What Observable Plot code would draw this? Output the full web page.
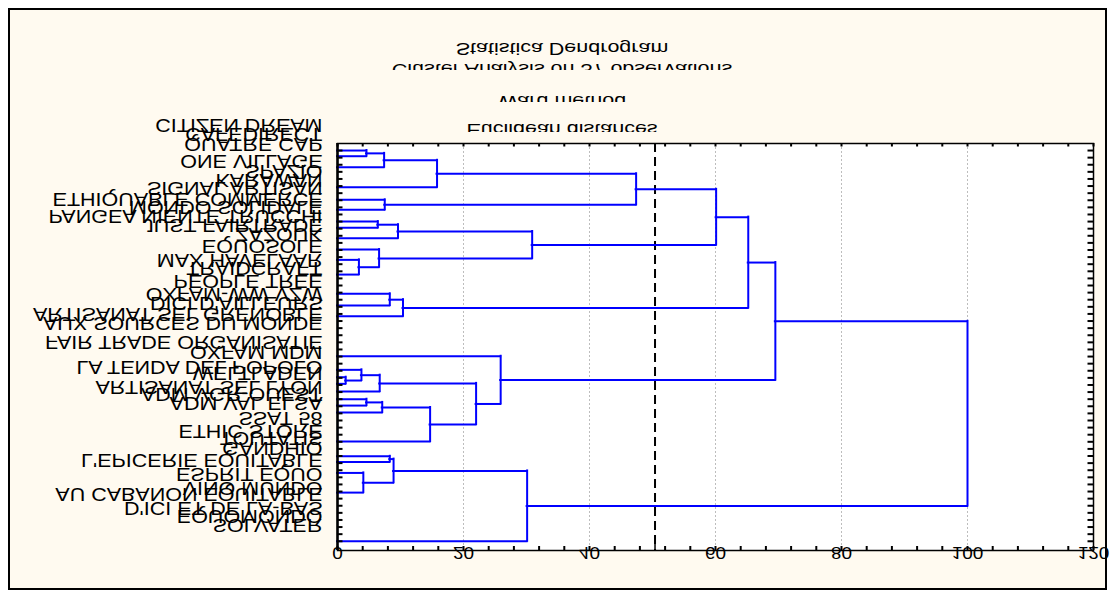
<!DOCTYPE html>
<html><head><meta charset="utf-8">
<script src="https://cdn.jsdelivr.net/npm/d3@7"></script>
<script src="https://cdn.jsdelivr.net/npm/@observablehq/plot@0.6"></script>
<style>
html,body{margin:0;padding:0;background:#fff;}
#wrap{position:relative;width:1115px;height:596px;overflow:hidden;font-family:"Liberation Sans",Arial,sans-serif;}
#border{position:absolute;left:8px;top:8px;width:1099px;height:582px;box-sizing:border-box;border:2px solid #000;background:#fffaf0;}
#chart{position:absolute;left:0;top:0;}
.tl{position:absolute;left:0;width:1124px;overflow:hidden;}
.tl div{position:absolute;left:0;width:100%;text-align:center;font-size:21.5px;line-height:21.5px;height:21.5px;white-space:nowrap;transform:scaleY(-0.78);transform-origin:50% 50%;color:#000;}
</style></head><body>
<div id="wrap"><div id="border"></div><div id="chart"></div><div id="titles"></div></div>
<script>
// ---- data ----
const titleLines = ["Statistica Dendrogram", "Cluster Analysis on 37 observations", "Ward method", "Euclidean distances"];

const obsLabels = ["CITIZEN DREAM","CAFEDIRECT","QUATRE CAP","ONE VILLAGE","SPAZIO","KARAWAN","SIGNAL ARTISAN",
  "ETHIQUABLE COMMERCE","MONDO SOLIDALE","PANGEA NIENTE TRUCCHI","JUST FAIRTRADE","ZAZOUK","EQUOSOLE",
  "MAX HAVELAAR","TRAIDCRAFT","PEOPLE TREE","OXFAM-WW VZW","DICI D'AILLEURS","ARTISANAT SEL GRENOBLE",
  "AUX SOURCES DU MONDE","FAIR TRADE ORGANISATIE","OXFAM MDM","LA TENDA DEL POPOLO","WELTLADEN",
  "ARTISANAT SEL LYON","ADM VGR-OUEST","ADM VAL ELSA","SSAT 58","ETHIC STORE","TOUTATIS","GANDHIO",
  "L'EPICERIE EQUITABLE","ESPRIT EQUO","VINO MUNDO","AU CABANON EQUITABLE","D'ICI ET DE LA-BAS","EQUOMONDO","SOLVATER"];
const labelRows = [-3.52,-2.28,-0.89,1.52,2.93,4.22,5.28,6.86,7.98,9.2,10.56,11.8,13.5,15.37,16.5,18.4,20.2,21.5,23.1,
  24.3,27.0,28.4,30.5,31.3,33.3,34.3,35.6,37.7,39.5,40.5,41.9,43.6,45.6,47.5,48.4,50.4,51.4,52.7];

// leaf rows of the dendrogram (in leaf-tick units)
const leafRows = [0,0.80,2.35,5.17,6.94,8.35,10.0,10.88,12.35,13.94,15.39,17.46,20.17,21.82,23.33,28.96,
  30.87,31.91,32.84,33.93,35.01,35.90,36.89,40.97,43.04,43.83,45.38,48.15,55.0];
// merges: left child, right child, linkage distance
const mergeLeft  = ["L0","M0","M1","L4","M2","L6","M5","L10","L9","M6","M4","L12","M11","M10","L17","L16","M15","L20","M17","M18","M16","L15","M13","L24","L26","M23","M25","M22"];
const mergeRight = ["L1","L2","L3","L5","M3","L7","L8","L11","M7","M8","M9","L13","L14","M12","L18","M14","L19","L21","L22","L23","M19","M20","M21","L25","L27","M24","L28","M26"];
const mergeHeight = [4.6,7.4,15.8,7.5,47.4,6.4,9.6,3.4,6.6,30.9,60.1,8.3,10.4,65.2,1.3,3.8,6.7,4.6,7.1,14.7,22.0,25.9,69.5,8.3,4.1,8.9,30.1,100.0];

const cutHeight = 50.4;
const xTickLabels = [0,20,40,60,80,100,120];
const gridX = [20,40,60,80,100];
const xMinor = d3.range(0, 121, 4);
const rowTicks = d3.range(0, 56);

// ---- build tree segments ----
const nodeY = {}, nodeH = {};
leafRows.forEach((r, i) => { nodeY["L" + i] = r; nodeH["L" + i] = 0; });
const hSegs = [], vSegs = [];
mergeLeft.forEach((a, i) => {
  const b = mergeRight[i], h = mergeHeight[i], id = "M" + i;
  nodeY[id] = (nodeY[a] + nodeY[b]) / 2; nodeH[id] = h;
  for (const c of [a, b]) hSegs.push({y: nodeY[c], x1: nodeH[c], x2: h});
  vSegs.push({x: h, y1: nodeY[a], y2: nodeY[b]});
});

// ---- plot ----
const W = 1115, H = 596, mL = 337, mT = 143, mR = 22, mB = 46;
const plotW = W - mL - mR, plotH = H - mT - mB;
const blue = "#0000ff";
const chart = Plot.plot({
  width: W, height: H, marginLeft: mL, marginTop: mT, marginRight: mR, marginBottom: mB,
  style: {background: "transparent", fontFamily: "'Liberation Sans', Arial, sans-serif", overflow: "visible"},
  x: {domain: [0, 120], axis: null},
  y: {domain: [-0.99, 56.3], reverse: true, axis: null},
  marks: [
    Plot.frame({fill: "white", stroke: null}),
    Plot.ruleX(gridX, {x: d => d, stroke: "#bdbdbd", strokeWidth: 1, strokeDasharray: "2,2"}),
    Plot.ruleX([cutHeight], {x: d => d, stroke: "#000", strokeWidth: 2, strokeDasharray: "9,5"}),
    Plot.ruleY(hSegs, {y: "y", x1: "x1", x2: "x2", stroke: blue, strokeWidth: 2, strokeLinecap: "square"}),
    Plot.ruleX(vSegs, {x: "x", y1: "y1", y2: "y2", stroke: blue, strokeWidth: 2, strokeLinecap: "square"}),
    Plot.tickY(rowTicks, {y: d => d, insetRight: plotW - 5.5, stroke: "#000", strokeWidth: 2}),
    Plot.tickY(rowTicks, {y: d => d, insetLeft: plotW - 5.5, stroke: "#000", strokeWidth: 2}),
    Plot.tickX(xMinor, {x: d => d, insetBottom: plotH - 3.5, stroke: "#000", strokeWidth: 2}),
    Plot.tickX(xMinor, {x: d => d, insetTop: plotH - 4, stroke: "#000", strokeWidth: 2}),
    Plot.tickX([cutHeight], {x: d => d, insetTop: plotH - 7, stroke: "#000", strokeWidth: 1.5}),
    Plot.frame({stroke: "#000", strokeWidth: 1.5}),
    Plot.ruleX([0], {x: d => d, stroke: "#000", strokeWidth: 2.5}),
    Plot.text(obsLabels, {y: (d, i) => labelRows[i], text: d => d, frameAnchor: "left", textAnchor: "end",
      lineAnchor: "middle", dx: -15, fontSize: 21.5, fill: "#000"}),
    Plot.text(xTickLabels, {x: d => d, text: d => String(d), frameAnchor: "bottom", lineAnchor: "middle",
      textAnchor: "middle", dy: 2.5, fontSize: 19, fill: "#000"})
  ]
});
document.getElementById("chart").appendChild(chart);

// glyphs are drawn vertically mirrored, as in the reference
chart.querySelectorAll("text").forEach(t => {
  const bb = t.getBBox();
  const cy = bb.y + bb.height / 2;
  t.setAttribute("transform", (t.getAttribute("transform") || "") +
    ` translate(0,${cy}) scale(1,-0.86) translate(0,${-cy})`);
});

// ---- titles (mirrored, partly clipped) ----
const titleLayout = [
  {top: 20, bottom: 60, y: 37},
  {top: 50, bottom: 70, y: 58.4},
  {top: 80, bottom: 101.7, y: 90},
  {top: 110, bottom: 131.7, y: 118.4}
];
const tdiv = document.getElementById("titles");
titleLines.forEach((s, i) => {
  const L = titleLayout[i];
  const box = document.createElement("div");
  box.className = "tl";
  box.style.top = L.top + "px";
  box.style.height = (L.bottom - L.top) + "px";
  const inner = document.createElement("div");
  inner.style.top = (L.y - L.top) + "px";
  inner.textContent = s;
  box.appendChild(inner);
  tdiv.appendChild(box);
});
</script>
</body></html>
